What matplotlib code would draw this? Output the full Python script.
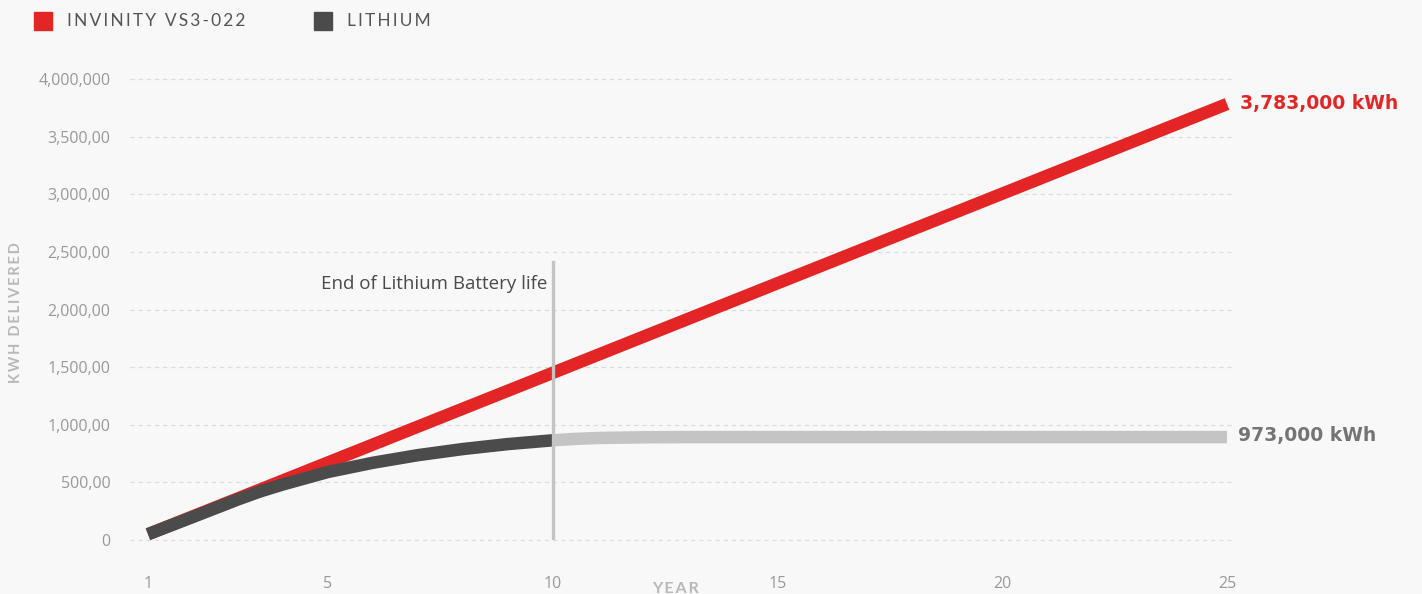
import matplotlib
matplotlib.use("Agg")
import matplotlib.pyplot as plt
import matplotlib.patches as mpatches

# data
years_flow = [1, 25]
flow_kwh = [50000, 3783000]

years_li = [1, 2, 3, 3.5, 4, 5, 6, 7, 8, 9, 10]
li_kwh = [50000, 200000, 352000, 422000, 482000, 590000, 670000, 736000, 789000, 832000, 865000]

years_li_dead = [10, 10.5, 11, 12, 13, 15, 20, 25]
li_dead_kwh = [865000, 877000, 885000, 891000, 893000, 893000, 893000, 893000]

end_of_life_year = 10
end_of_life_top = 2410000

x_ticks = [1, 5, 10, 15, 20, 25]
y_ticks = [0, 500000, 1000000, 1500000, 2000000, 2500000, 3000000, 3500000, 4000000]
y_tick_labels = ["0", "500,00", "1,000,00", "1,500,00", "2,000,00", "2,500,00",
                 "3,000,00", "3,500,00", "4,000,000"]

series_names = ["INVINITY VS3-022", "LITHIUM"]
red = "#e32526"
dark = "#4b4b4b"
grey = "#c4c4c4"
bg = "#f8f8f8"

W, H = 1422, 594
fig = plt.figure(figsize=(W / 100, H / 100), dpi=100, facecolor=bg)
ax = fig.add_axes([130 / W, (H - 540) / H, 1102 / W, 461 / H], facecolor=bg)

lw = 9
ax.plot(years_flow, flow_kwh, color=red, lw=lw, solid_capstyle="butt", clip_on=False, zorder=3)
ax.plot(years_li, li_kwh, color=dark, lw=lw, solid_capstyle="butt", solid_joinstyle="round",
        clip_on=False, zorder=4)
ax.plot(years_li_dead, li_dead_kwh, color=grey, lw=lw, solid_capstyle="butt",
        solid_joinstyle="round", clip_on=False, zorder=4)
ax.plot([end_of_life_year, end_of_life_year], [0, end_of_life_top], color=grey, lw=2.4, zorder=5)

ax.set_xlim(0.6, 25.11)
ax.set_ylim(0, 4000000)

for y in y_ticks:
    ax.axhline(y, color="#dcdcdc", lw=0.9, ls=(0, (3.5, 3)), zorder=1, clip_on=False)

for s in ax.spines.values():
    s.set_visible(False)
ax.set_yticks(y_ticks)
ax.set_yticklabels(y_tick_labels)
ax.set_xticks(x_ticks)
ax.set_xticklabels([str(t) for t in x_ticks])
ax.tick_params(axis="both", length=0, colors="#999999", labelsize=11.5)
ax.tick_params(axis="y", pad=14)
ax.tick_params(axis="x", pad=26)
for t in ax.get_xticklabels() + ax.get_yticklabels():
    t.set_fontfamily("Open Sans")

fig.text(16 / W, 1 - 313 / H, "\u2009".join("KWH DELIVERED"), rotation=90, ha="center",
         va="center", color="#b8b8b8", fontsize=10.5, fontweight="bold", family="Lato")
fig.text(675 / W, 1 - 589 / H, "\u2009".join("YEAR"), ha="center", va="center",
         color="#b8b8b8", fontsize=11.5, fontweight="bold", family="Lato")

fig.text(547 / W, 1 - 284 / H, "End of Lithium Battery life", ha="right", va="center",
         color="#4a4a4a", fontsize=13.5, family="Open Sans")

fig.text(1240 / W, 1 - 104 / H, "3,783,000 kWh", ha="left", va="center",
         color=red, fontsize=13.5, fontweight="bold", family="DejaVu Sans")
fig.text(1238 / W, 1 - 436 / H, "973,000 kWh", ha="left", va="center",
         color="#747474", fontsize=13.5, fontweight="bold", family="DejaVu Sans")

# legend
for i, (name, col) in enumerate(zip(series_names, [red, dark])):
    x0 = [34, 314][i]
    fig.patches.append(mpatches.Rectangle((x0 / W, 1 - 30 / H), 18 / W, 18 / H,
                                          transform=fig.transFigure, color=col))
    fig.text((x0 + 33) / W, 1 - 21 / H, "\u2009".join(name), ha="left", va="center",
             color="#555555", fontsize=12.5, family="Lato")

fig.savefig("out.png", dpi=100, facecolor=bg)
